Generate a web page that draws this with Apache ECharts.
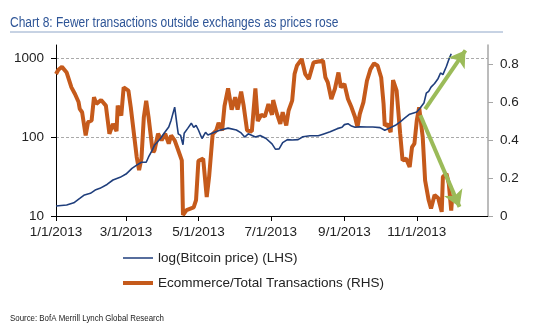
<!DOCTYPE html>
<html>
<head>
<meta charset="utf-8">
<script src="https://cdn.jsdelivr.net/npm/echarts@6/dist/echarts.min.js"></script>
<style>html,body{margin:0;padding:0;background:#fff;}#c{width:550px;height:332px;}</style>
</head>
<body>
<div id="c"></div>
<script>
// x values are day offsets from 1 Jan 2013
const titleText = 'Chart 8: Fewer transactions outside exchanges as prices rose';
const sourceText = 'Source: BofA Merrill Lynch Global Research';
const seriesNames = ['log(Bitcoin price) (LHS)', 'Ecommerce/Total Transactions (RHS)'];
const tickMonths = [1, 3, 5, 7, 9, 11];

const priceDay = [0,9,15,20,24,29,33,37,43,48,54,59,64,68,72,76,78,81,83,88,92,95,97,100,102,103,105,107,108,111,114,116,118,120,123,126,128,133,138,145,152,156,159,162,168,172,177,182,185,188,191,195,199,204,208,214,221,225,231,237,241,243,246,249,252,256,262,267,273,277,281,286,290,294,298,304,307,310,312,314,316,319,322,324,326,329,331,333];
const price = [13.4,13.8,14.7,16.7,18.5,19.4,21.3,22.4,25.1,28.6,30.9,34,40.2,44.2,48,48,56,68,79,96,117,134,164,240,141,110,105,80,112,129,150,133,141,123,96,115,106,114,122,130,123,113,100,110,100,105,96,82,70,71,85,93,92,93,101,104,104,109,117,128,133,144,148,138,133,135,134,134,132,122,130,141,156,175,195,208,235,270,360,380,430,478,554,650,620,790,960,1140];

const ecomDay = [0,2,5,9,13,16,19,20,22,25,27,30,32,34,38,42,45,48,51,52,55,57,61,63,67,68,70,72,74,76,78,81,82,83,86,89,92,95,97,100,103,106,107,110,116,118,120,124,127,129,132,135,137,140,142,145,148,151,153,156,158,161,165,168,170,173,176,179,182,183,186,189,191,194,196,199,201,203,207,210,213,217,221,225,227,229,232,235,238,240,243,246,249,252,254,256,259,262,265,268,271,274,276,277,279,282,284,287,290,292,295,298,300,302,304,306,309,311,314,316,319,322,325,326,329,331,333,334];
const ecomShare = [0.747,0.77,0.785,0.755,0.677,0.642,0.60,0.564,0.546,0.424,0.494,0.503,0.625,0.59,0.611,0.581,0.433,0.485,0.447,0.581,0.529,0.677,0.66,0.572,0.363,0.31,0.241,0.302,0.52,0.607,0.52,0.363,0.335,0.346,0.433,0.398,0.433,0.381,0.424,0.398,0.346,0.293,0.005,0.031,0.045,0.084,0.29,0.302,0.1,0.206,0.431,0.45,0.49,0.45,0.58,0.672,0.56,0.625,0.56,0.655,0.585,0.45,0.445,0.672,0.50,0.533,0.524,0.589,0.532,0.61,0.54,0.485,0.546,0.476,0.555,0.607,0.747,0.791,0.826,0.747,0.721,0.808,0.813,0.817,0.729,0.703,0.616,0.669,0.755,0.677,0.695,0.616,0.572,0.52,0.468,0.538,0.598,0.712,0.773,0.803,0.791,0.729,0.59,0.476,0.485,0.441,0.715,0.66,0.433,0.293,0.302,0.258,0.363,0.381,0.503,0.572,0.415,0.188,0.084,0.04,0.11,0.095,0.022,0.206,0.222,0.17,0.028,0.11];

// annotation arrows: [startDay, startValue(RHS), endDay, endValue(RHS)]
const arrowUp = [311, 0.562, 345, 0.872];
const arrowDown = [307, 0.53, 340, 0.048];

// categories: every day of 2013
const days = [];
const start = Date.UTC(2013, 0, 1);
for (let i = 0; i < 365; i++) {
  const d = new Date(start + i * 86400000);
  days.push((d.getUTCMonth() + 1) + '/' + d.getUTCDate() + '/' + d.getUTCFullYear());
}
const isTick = (idx) => {
  const d = new Date(start + idx * 86400000);
  return d.getUTCDate() === 1 && tickMonths.indexOf(d.getUTCMonth() + 1) >= 0;
};

const font = "'Liberation Sans', Arial, sans-serif";
const blue = '#1f3e7c';
const orange = '#c55a1b';
const chart = echarts.init(document.getElementById('c'));
chart.setOption({
  animation: false,
  backgroundColor: '#fff',
  graphic: [
    { type: 'text', x: 10, y: 23, scaleX: 0.773, scaleY: 1, silent: true,
      style: { text: titleText, font: "normal 15.5px 'Liberation Sans', Arial, sans-serif", fill: '#2e5597', verticalAlign: 'middle', align: 'left' } },
    { type: 'line', shape: { x1: 10, y1: 32, x2: 503, y2: 32 }, style: { stroke: '#8fa6c8', lineWidth: 1 }, silent: true },
    { type: 'text', x: 10, y: 318, scaleX: 0.83, scaleY: 1, silent: true,
      style: { text: sourceText, font: "normal 9.5px 'Liberation Sans', Arial, sans-serif", fill: '#222', verticalAlign: 'middle', align: 'left' } }
  ],
  legend: {
    orient: 'vertical', left: 118, top: 246, itemWidth: 30, itemHeight: 14, itemGap: 11,
    data: [
      { name: seriesNames[0], icon: 'path://M0,0 M0,6.25 L30,6.25 L30,7.75 L0,7.75 Z M30,14' },
      { name: seriesNames[1], icon: 'path://M0,0 M0,5 L30,5 L30,9 L0,9 Z M30,14' }
    ],
    textStyle: { fontFamily: font, fontSize: 13.5, color: '#222' }
  },
  grid: { left: 56, right: 62, top: 45, bottom: 116, containLabel: false },
  xAxis: {
    type: 'category', data: days, boundaryGap: false,
    axisLine: { lineStyle: { color: '#000', width: 1 } },
    axisTick: { interval: (i) => isTick(i), length: 5, lineStyle: { color: '#000' } },
    axisLabel: { interval: (i) => isTick(i), margin: 9, fontFamily: font, fontSize: 13.5, color: '#222' },
    splitLine: { show: false }
  },
  yAxis: [
    { type: 'log', logBase: 10, min: 10, max: 1470, position: 'left',
      axisLine: { show: true, lineStyle: { color: '#000' } },
      axisTick: { show: true, length: 5, lineStyle: { color: '#000' } },
      axisLabel: { margin: 12, fontFamily: font, fontSize: 13.5, color: '#222', showMaxLabel: false,
        formatter: (v) => String(Math.round(v)) },
      splitLine: { show: true, showMinLine: false, showMaxLine: false, lineStyle: { color: '#aaa', type: [3, 2], width: 1 } },
      minorTick: { show: false }
    },
    { type: 'value', min: 0, max: 0.9, interval: 0.2, position: 'right',
      axisLine: { show: true, lineStyle: { color: '#a6a6a6', width: 1.5 } },
      axisTick: { show: true, length: 5, lineStyle: { color: '#a6a6a6' } },
      axisLabel: { margin: 12, fontFamily: font, fontSize: 13.5, color: '#222', showMaxLabel: false,
        formatter: (v) => (v === 0 ? '0' : v.toFixed(1)) },
      splitLine: { show: false }
    }
  ],
  series: [
    { name: seriesNames[1], type: 'line', yAxisIndex: 1, z: 2,
      data: ecomDay.map((d, i) => [d, ecomShare[i]]),
      showSymbol: false, symbol: 'none',
      lineStyle: { color: orange, width: 4 }, itemStyle: { color: orange } },
    { name: seriesNames[0], type: 'line', yAxisIndex: 0, z: 3,
      data: priceDay.map((d, i) => [d, price[i]]),
      showSymbol: false, symbol: 'none',
      lineStyle: { color: blue, width: 1.6 }, itemStyle: { color: blue } },
    { name: 'arrows', type: 'line', yAxisIndex: 1, z: 5, data: [],
      markLine: {
        silent: true, symbol: ['none', 'arrow'], symbolSize: [15, 16],
        label: { show: false },
        lineStyle: { color: '#9bbb59', width: 4, type: 'solid' },
        emphasis: { disabled: true },
        data: [
          [{ coord: [arrowUp[0], arrowUp[1]] }, { coord: [arrowUp[2], arrowUp[3]] }],
          [{ coord: [arrowDown[0], arrowDown[1]] }, { coord: [arrowDown[2], arrowDown[3]] }]
        ]
      }
    }
  ]
});
</script>
</body>
</html>
